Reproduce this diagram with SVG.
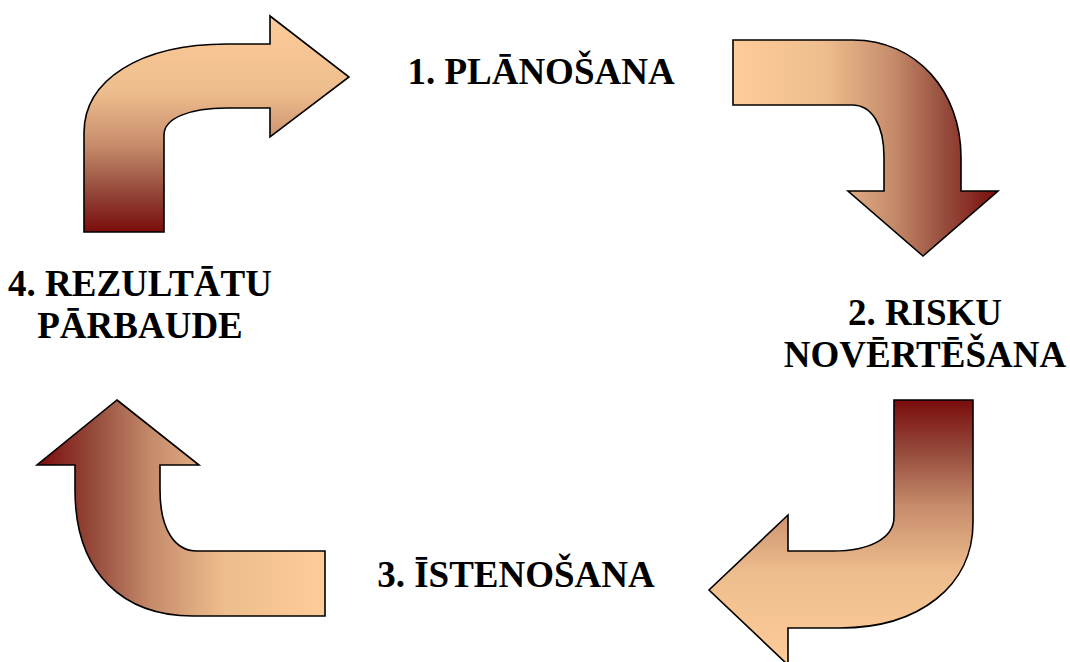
<svg xmlns="http://www.w3.org/2000/svg" width="1070" height="662" viewBox="0 0 1070 662">
<style>
.arrow{stroke:#000;stroke-width:1.6;stroke-linejoin:miter}
.label{font-family:"Liberation Serif","Times New Roman",serif;font-weight:bold;font-size:37px;fill:#000;text-anchor:middle}
</style>
<defs>
<linearGradient id="gH" x1="0" y1="0" x2="1" y2="0">
<stop offset="0" stop-color="#FDCC99"/>
<stop offset="0.35" stop-color="#EEBD8D"/>
<stop offset="0.6" stop-color="#C68C6B"/>
<stop offset="0.8" stop-color="#964C3D"/>
<stop offset="1" stop-color="#7A0C0C"/>
</linearGradient>
<linearGradient id="gHr" href="#gH" x1="1" y1="0" x2="0" y2="0"/>
<linearGradient id="gV" href="#gH" x1="0" y1="0" x2="0" y2="1"/>
<linearGradient id="gVr" href="#gH" x1="0" y1="1" x2="0" y2="0"/>
</defs>
<rect width="1070" height="662" fill="#fff"/>
<g id="connectors">
<path id="arrow1" class="arrow" fill="url(#gV)" d="M84,232 L84,133 C84,80 140,44 227,44 L270,44 L270,16 L349,77 L270,137 L270,108 L227,108 C190,108 164,118 164,135 L164,232 Z"/>
<path id="arrow2" class="arrow" fill="url(#gH)" d="M733,40 L853,40 C917,40 961,92 961,157 L961,191 L998,191 L923,256 L848,191 L884,191 L884,157 C884,125 872,105 852,105 L733,105 Z"/>
<path id="arrow3" class="arrow" fill="url(#gVr)" d="M894,400 L973,400 L973,523 C973,585 920,628 840,628 L788,628 L788,665 L709,590 L788,515 L788,551 L833,551 C870,551 894,538 894,517 Z"/>
<path id="arrow4" class="arrow" fill="url(#gHr)" d="M117,400 L199,465 L160,465 L160,490 C160,530 175,551 197,551 L325,551 L325,616 L193,616 C125,616 75,575 75,490 L75,465 L37,465 Z"/>
</g>
<g id="node1"><text class="label" x="541" y="84">1. PLĀNOŠANA</text></g>
<g id="node2"><text class="label" x="925" y="325">2. RISKU</text><text class="label" x="925" y="367">NOVĒRTĒŠANA</text></g>
<g id="node3"><text class="label" x="516" y="587">3. ĪSTENOŠANA</text></g>
<g id="node4"><text class="label" x="140" y="296">4. REZULTĀTU</text><text class="label" x="140" y="338">PĀRBAUDE</text></g>
</svg>
